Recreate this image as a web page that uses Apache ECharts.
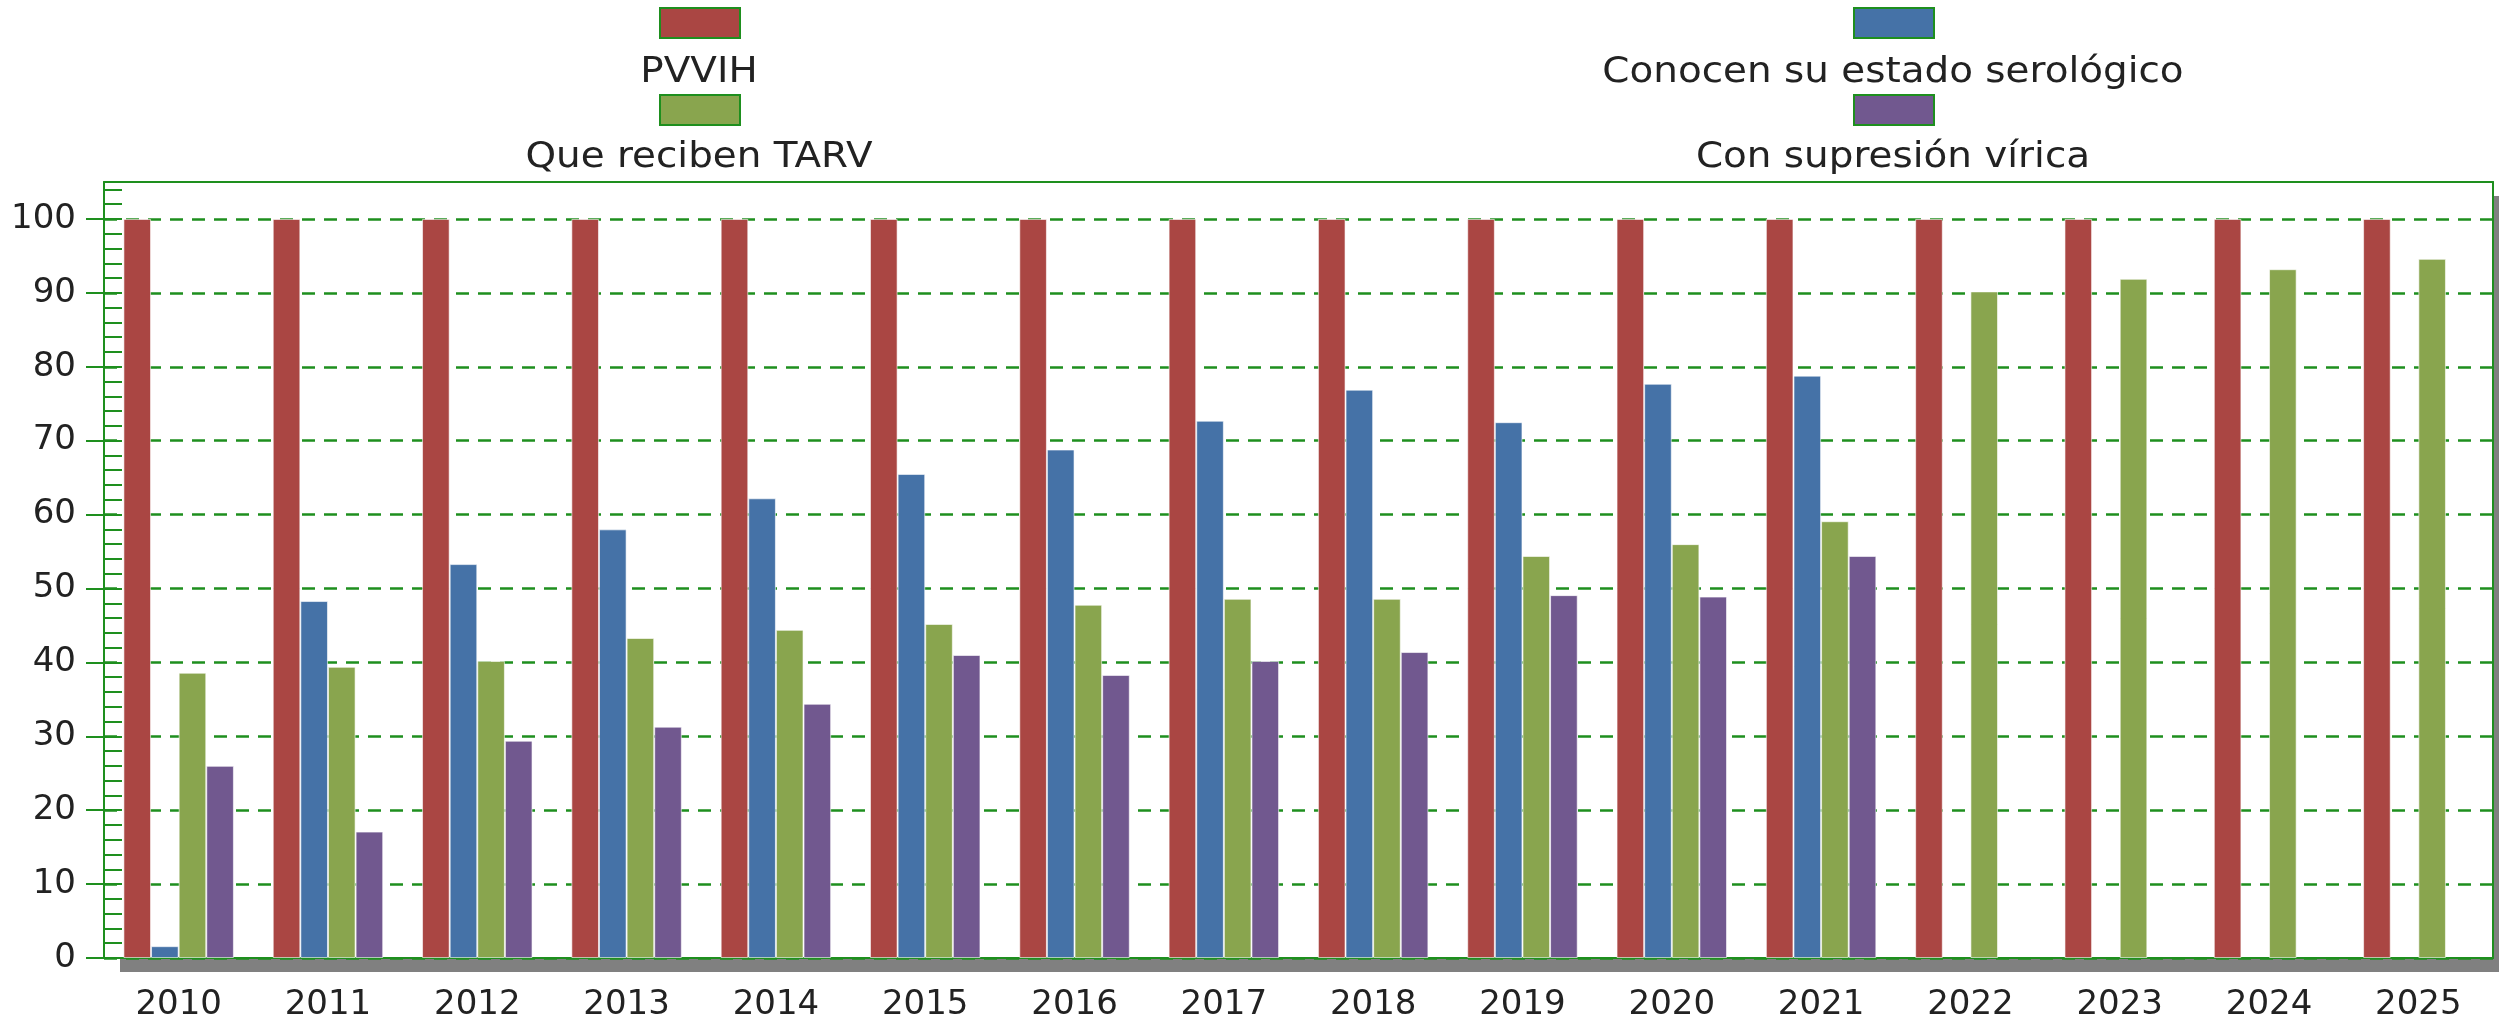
<!DOCTYPE html>
<html>
<head>
<meta charset="utf-8">
<script src="https://cdn.jsdelivr.net/npm/echarts@6/dist/echarts.min.js"></script>
<style>
    html, body { margin: 0; padding: 0; background: #fff; }
    #main { width: 2499px; height: 1022px; }
</style>
</head>
<body>
<div id="main"></div>
<script>
// datos
let years = ['2010', '2011', '2012', '2013', '2014', '2015', '2016', '2017',
    '2018', '2019', '2020', '2021', '2022', '2023', '2024', '2025'];
let seriesNames = ['PVVIH', 'Conocen su estado serológico', 'Que reciben TARV', 'Con supresión vírica'];
let pvvih = [100, 100, 100, 100, 100, 100, 100, 100, 100, 100, 100, 100, 100, 100, 100, 100];
let conocen = [1.6, 48.3, 53.3, 58.0, 62.2, 65.5, 68.8, 72.7, 76.9, 72.5, 77.7, 78.8, null, null, null, null];
let tarv = [38.6, 39.4, 40.2, 43.3, 44.4, 45.2, 47.8, 48.6, 48.6, 54.4, 56.0, 59.1, 90.2, 91.9, 93.2, 94.6];
let supresion = [26.0, 17.1, 29.4, 31.3, 34.4, 41.0, 38.3, 40.2, 41.4, 49.1, 48.9, 54.4, null, null, null, null];
let yLabels = [0, 10, 20, 30, 40, 50, 60, 70, 80, 90, 100];

let green = '#1e8f1e';
let colors = ['#AA4643', '#4572A7', '#89A54E', '#71588F'];
let textColor = '#222';
let font = '"DejaVu Sans", Verdana, sans-serif';

let box = document.getElementById('main');
let myChart = echarts.init(box);

// leyenda: cuadro arriba, texto debajo, en dos columnas
let colX = [699, 1893];
let boxTop = [7, 94];
let textY = [73, 158];
let legends = [], legendTexts = [];
seriesNames.forEach(function (name, i) {
    let col = i % 2, row = Math.floor(i / 2);
    legends.push({
        data: [{ name: name, icon: 'rect' }],
        left: colX[col] - 40,
        top: boxTop[row],
        itemWidth: 80,
        itemHeight: 30,
        itemGap: 0,
        padding: 0,
        selectedMode: false,
        formatter: function () { return ''; },
        itemStyle: { borderColor: green, borderWidth: 2 }
    });
    legendTexts.push({
        type: 'text',
        x: colX[col],
        y: textY[row],
        scaleX: 1.08,
        style: {
            text: name,
            fill: textColor,
            font: '36px ' + font,
            textAlign: 'center',
            textVerticalAlign: 'middle'
        }
    });
});

let seriesData = [pvvih, conocen, tarv, supresion];

let options = {
    animation: false,
    color: colors,
    legend: legends,
    graphic: legendTexts,
    grid: {
        left: 104,
        right: 6,
        top: 182,
        bottom: 63,
        show: true,
        backgroundColor: '#fff',
        borderWidth: 0,
        shadowColor: '#808080',
        shadowBlur: 0,
        shadowOffsetX: 16,
        shadowOffsetY: 14
    },
    xAxis: [
        {
            type: 'category',
            position: 'bottom',
            data: years,
            axisLine: { lineStyle: { color: green, width: 2 } },
            axisTick: { alignWithLabel: true, length: 24, lineStyle: { color: green, width: 2 } },
            axisLabel: { color: textColor, fontSize: 34, fontFamily: font, margin: 30 },
            splitLine: { show: false }
        },
        {
            // marcas hacia dentro
            type: 'category',
            position: 'bottom',
            data: years,
            axisLine: { show: false },
            axisTick: { inside: true, alignWithLabel: true, length: 21, lineStyle: { color: green, width: 2 } },
            axisLabel: { show: false },
            splitLine: { show: false }
        },
        {
            // borde superior
            type: 'category',
            position: 'top',
            data: years,
            axisLine: { show: true, onZero: false, lineStyle: { color: green, width: 2 } },
            axisTick: { show: false },
            axisLabel: { show: false },
            splitLine: { show: false }
        }
    ],
    yAxis: [
        {
            type: 'value',
            position: 'left',
            min: 0,
            max: 105,
            interval: 10,
            axisLine: { show: true, lineStyle: { color: green, width: 2 } },
            axisTick: { show: true, length: 18, customValues: yLabels, lineStyle: { color: green, width: 2 } },
            axisLabel: { color: textColor, fontSize: 34, fontFamily: font, margin: 28, customValues: yLabels },
            splitLine: { show: true, lineStyle: { color: green, width: 2.5, type: [13, 9] } }
        },
        {
            // marcas menores hacia dentro
            type: 'value',
            position: 'left',
            min: 0,
            max: 105,
            interval: 2,
            axisLine: { show: false },
            axisTick: { show: true, inside: true, length: 18, lineStyle: { color: green, width: 2 } },
            axisLabel: { show: false },
            splitLine: { show: false }
        },
        {
            // borde derecho
            type: 'value',
            position: 'right',
            min: 0,
            max: 105,
            axisLine: { show: true, lineStyle: { color: green, width: 2 } },
            axisTick: { show: false },
            axisLabel: { show: false },
            splitLine: { show: false }
        }
    ],
    series: seriesNames.map(function (name, i) {
        return {
            name: name,
            type: 'bar',
            barGap: '0%',
            barCategoryGap: '26%',
            itemStyle: { borderColor: 'rgba(255,255,255,0.6)', borderWidth: 1 },
            data: seriesData[i]
        };
    })
};
myChart.setOption(options);
</script>
</body>
</html>
